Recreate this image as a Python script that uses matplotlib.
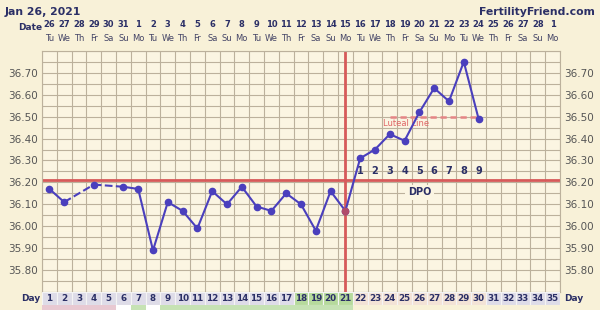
import numpy as np
import matplotlib.pyplot as plt
from matplotlib.transforms import blended_transform_factory

# chart data
days = list(range(1, 36))
dates = ["26", "27", "28", "29", "30", "31"] + [str(d) for d in range(1, 29)] + ["1"]
weekdays = ["Tu", "We", "Th", "Fr", "Sa", "Su", "Mo"] * 5
temp_days = [1, 2, 4, 6, 7, 8, 9, 10, 11, 12, 13, 14, 15, 16, 17, 18, 19, 20,
             21, 22, 23, 24, 25, 26, 27, 28, 29, 30]
temps = [36.17, 36.11, 36.19, 36.18, 36.17, 35.89, 36.11, 36.07, 35.99, 36.16,
         36.10, 36.18, 36.09, 36.07, 36.15, 36.10, 35.98, 36.16, 36.07, 36.31,
         36.35, 36.42, 36.39, 36.52, 36.63, 36.57, 36.75, 36.49]
dashed_pairs = [(2, 4), (4, 6)]
coverline = 36.21
ovulation_day = 21
luteal_start, luteal_end, luteal_temp = 24, 30, 36.50
dpo_days = list(range(22, 31))
dpo_labels = [str(i) for i in range(1, 10)]
ytick_vals = [35.80, 35.90, 36.00, 36.10, 36.20, 36.30, 36.40, 36.50, 36.60, 36.70]

navy = "#2b2f66"
line_c = "#4a3fbd"
red = "#d65a5a"
bg = "#f8f1d8"

fig = plt.figure(figsize=(6, 3.1), dpi=100, facecolor=bg)
ax = fig.add_axes([0.07, 0.058, 0.8633, 0.778])
ax.set_facecolor("#fbf5e2")
ax.set_xlim(0.5, 35.5)
ax.set_ylim(35.70, 36.80)

# grid
for x in np.arange(0.5, 36, 1):
    ax.axvline(x, color="#bcb19c", lw=0.8, zorder=1)
for y in np.arange(35.70, 36.81, 0.05):
    ax.axhline(y, color="#bcb19c", lw=0.8, zorder=1)
for s in ax.spines.values():
    s.set_color("#bcb19c")
    s.set_linewidth(0.8)

ax.set_xticks([])
ax.set_yticks(ytick_vals)
ax.set_yticklabels([f"{v:.2f}" for v in ytick_vals])
ax.tick_params(axis="y", length=0, pad=3, labelsize=7.5, labelcolor="#555555",
               right=True, labelright=True)

# coverline and ovulation line
ax.axhline(coverline, color=red, lw=2, zorder=2)
ax.axvline(ovulation_day, color=red, lw=2, zorder=2)

# luteal line
ax.plot([luteal_start, luteal_end], [luteal_temp, luteal_temp], color="#e58585",
        lw=1.8, ls=(0, (2.5, 1.5)), zorder=2)
ax.text(luteal_start - 0.45, luteal_temp - 0.012, "Luteal Line", color="#e06666",
        fontsize=6, va="top", ha="left", zorder=3)

# temperature line: solid segments between consecutive days, dashed across gaps
for i in range(len(temp_days) - 1):
    d0, d1 = temp_days[i], temp_days[i + 1]
    ls = "--" if (d0, d1) in dashed_pairs else "-"
    ax.plot([d0, d1], [temps[i], temps[i + 1]], color=line_c, lw=1.5, ls=ls, zorder=4)
ax.plot(temp_days, temps, "o", color=line_c, ms=4.5, zorder=5)
ovi = temp_days.index(ovulation_day)
ax.plot(temp_days[ovi], temps[ovi], "o", color="#b04a6a", ms=4.5, zorder=6)

# DPO labels
for d, lab in zip(dpo_days, dpo_labels):
    ax.text(d, 36.25, lab, ha="center", va="center", fontsize=7, fontweight="bold",
            color=navy, zorder=3)
ax.text(26, 36.155, "DPO", ha="center", va="center", fontsize=7, fontweight="bold",
        color=navy, zorder=3,
        bbox=dict(boxstyle="square,pad=0.25", fc="#fbf5e2", ec="none"))

# header texts
tr = blended_transform_factory(ax.transData, fig.transFigure)
fig.text(0.008, 0.978, "Jan 26, 2021", fontsize=7.8, fontweight="bold", color=navy,
         ha="left", va="top")
fig.text(0.992, 0.978, "FertilityFriend.com", fontsize=7.8, fontweight="bold",
         color=navy, ha="right", va="top")
fig.text(0.03, 0.912, "Date", fontsize=6.5, fontweight="bold", color=navy,
         ha="left", va="center")
for d, dt, wd in zip(days, dates, weekdays):
    ax.text(d, 0.92, dt, transform=tr, ha="center", va="center", fontsize=6,
            fontweight="bold", color=navy)
    ax.text(d, 0.877, wd, transform=tr, ha="center", va="center", fontsize=6,
            color="#444466")

# day row
dax = fig.add_axes([0.07, 0.016, 0.8633, 0.042])
dax.set_xlim(0.5, 35.5)
dax.set_ylim(0, 1)
dax.axis("off")
box_colors = []
for d in days:
    if 18 <= d <= 21:
        box_colors.append("#b6da9c")
    elif 22 <= d <= 30:
        box_colors.append("#f3e3d6")
    else:
        box_colors.append("#dedce8")
dax.bar(days, [1] * len(days), width=1, bottom=0, color=box_colors,
        edgecolor="#f4f4f4", lw=0.8)
for d in days:
    dax.text(d, 0.5, str(d), ha="center", va="center", fontsize=6.3,
             fontweight="bold", color=navy)
fig.text(0.067, 0.037, "Day", fontsize=6.5, fontweight="bold", color=navy,
         ha="right", va="center")
fig.text(0.94, 0.037, "Day", fontsize=6.5, fontweight="bold", color=navy,
         ha="left", va="center")

# bottom strip
sax = fig.add_axes([0.07, 0.0, 0.8633, 0.016])
sax.set_xlim(0.5, 35.5)
sax.set_ylim(0, 1)
sax.axis("off")
strip_colors = []
for d in days:
    if d <= 5:
        strip_colors.append("#e8c9d2")
    elif d in (6, 8):
        strip_colors.append("#ffffff")
    elif d <= 21:
        strip_colors.append("#c6e2b4")
    else:
        strip_colors.append(bg)
sax.bar(days, [1] * len(days), width=1, color=strip_colors, lw=0)

fig.savefig("out.png", dpi=100, facecolor=bg)
